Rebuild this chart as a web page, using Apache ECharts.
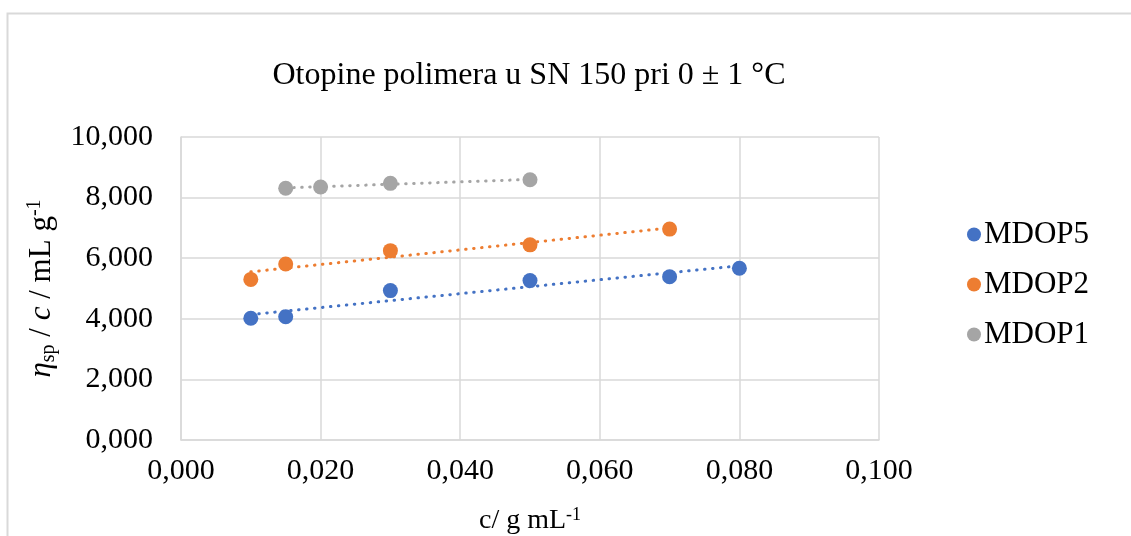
<!DOCTYPE html>
<html><head><meta charset="utf-8">
<script src="https://cdn.jsdelivr.net/npm/echarts@6/dist/echarts.min.js"></script>
<style>html,body{margin:0;padding:0;background:#fff}#c{width:1131px;height:536px}</style>
</head><body><div id="c"></div>
<script>
const seriesNames = ['MDOP5', 'MDOP2', 'MDOP1'];
const colors = ['#4472c4', '#ed7d31', '#a5a5a5'];
const mdop5 = [[0.010, 4.02], [0.015, 4.07], [0.030, 4.93], [0.050, 5.26], [0.070, 5.39], [0.080, 5.67]];
const mdop2 = [[0.010, 5.30], [0.015, 5.81], [0.030, 6.25], [0.050, 6.44], [0.070, 6.96]];
const mdop1 = [[0.015, 8.31], [0.020, 8.35], [0.030, 8.47], [0.050, 8.59]];
const trend5 = [[0.010, 4.14], [0.080, 5.75]];
const trend2 = [[0.010, 5.55], [0.070, 7.00]];
const trend1 = [[0.015, 8.32], [0.050, 8.60]];
const xTicks = [0, 0.02, 0.04, 0.06, 0.08, 0.10];
const yTicks = [0, 2, 4, 6, 8, 10];

const FONT = '"Liberation Serif", "Times New Roman", serif';
const fmt = v => v.toFixed(3).replace('.', ',');
const chart = echarts.init(document.getElementById('c'));
const pts = [mdop5, mdop2, mdop1];
const trends = [trend5, trend2, trend1];
const series = [];
pts.forEach((d, i) => {
  series.push({
    name: seriesNames[i], type: 'scatter', data: d, symbol: 'circle', symbolSize: 15,
    itemStyle: { color: colors[i], opacity: 1 }, z: 3
  });
  series.push({
    name: seriesNames[i] + ' trend', type: 'line', data: trends[i], symbol: 'none',
    lineStyle: { color: colors[i], width: 3, type: [0.5, 7.5], cap: 'round' }, z: 2, silent: true
  });
});
chart.setOption({
  animation: false,
  backgroundColor: '#fff',
  graphic: [{ type: 'rect', shape: { x: 7.5, y: 13.5, width: 1140, height: 560 },
    style: { fill: 'none', stroke: '#d9d9d9', lineWidth: 2 }, z: -1 }],
  title: {
    text: 'Otopine polimera u SN 150 pri 0 ± 1 °C', left: 524, textAlign: 'center', top: 55,
    textStyle: { fontFamily: FONT, fontSize: 32, fontWeight: 'normal', color: '#000' }
  },
  legend: {
    data: seriesNames, orient: 'vertical', left: 962, top: 214, itemGap: 19,
    icon: 'circle', itemWidth: 14, itemHeight: 14,
    textStyle: { fontFamily: FONT, fontSize: 31, color: '#000', padding: [0, 0, 0, -2] }
  },
  grid: { left: 181, right: 252, top: 137, bottom: 96, outerBoundsMode: 'none', containLabel: false },
  xAxis: {
    type: 'value', min: 0, max: 0.1, interval: 0.02,
    name: '{a|c/ g mL}{s|-1}', nameLocation: 'middle', nameGap: 66,
    nameTextStyle: { rich: {
      a: { fontFamily: FONT, fontSize: 28, color: '#000' },
      s: { fontFamily: FONT, fontSize: 18, color: '#000', verticalAlign: 'top', padding: [0, 0, 12, 0] }
    } },
    axisLine: { show: true, lineStyle: { color: '#d9d9d9', width: 1.5 } },
    axisTick: { show: false },
    splitLine: { show: true, lineStyle: { color: '#d9d9d9', width: 1.5 } },
    axisLabel: { formatter: fmt, fontFamily: FONT, fontSize: 30, color: '#000', margin: 16 }
  },
  yAxis: {
    type: 'value', min: 0, max: 10, interval: 2,
    name: '{i|η}{sub|sp}{a| / }{i|c}{a| / mL g}{sup|-1}', nameLocation: 'middle', nameGap: 122, nameRotate: 90,
    nameTextStyle: { rich: {
      i: { fontFamily: FONT, fontSize: 31, fontStyle: 'italic', color: '#000' },
      a: { fontFamily: FONT, fontSize: 31, color: '#000' },
      sub: { fontFamily: FONT, fontSize: 20, color: '#000', padding: [14, 0, 0, 0] },
      sup: { fontFamily: FONT, fontSize: 20, color: '#000', padding: [0, 0, 14, 0] }
    } },
    axisLine: { show: true, lineStyle: { color: '#d9d9d9', width: 1.5 } },
    axisTick: { show: false },
    splitLine: { show: true, lineStyle: { color: '#d9d9d9', width: 1.5 } },
    axisLabel: { formatter: fmt, fontFamily: FONT, fontSize: 30, color: '#000', margin: 28 }
  },
  series: series
});
</script></body></html>
